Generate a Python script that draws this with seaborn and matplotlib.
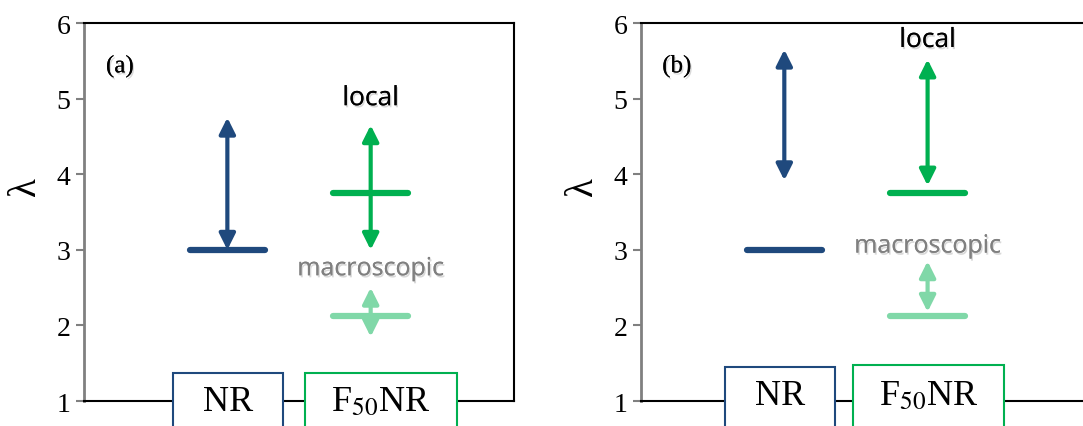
import matplotlib
matplotlib.use("Agg")
import matplotlib.pyplot as plt
import matplotlib.patheffects as pe
from matplotlib.patches import Rectangle
import seaborn as sns

sns.set_style("white")
plt.rcParams["font.family"] = ["Liberation Serif", "DejaVu Serif"]
plt.rcParams["mathtext.fontset"] = "stix"
plt.rcParams["text.color"] = "black"
plt.rcParams["ytick.labelcolor"] = "black"

# --- data ---
categories = ["NR", "F$_{50}$NR"]
cat_pos = [1, 2]
panel_labels = ["(a)", "(b)"]

# macroscopic / local levels of lambda
nr_level = [3.0, 3.0]
f50_local_level = [3.75, 3.75]
f50_macro_level = [2.13, 2.13]

# arrow ranges (low, high) per panel
nr_arrow = [(3.0, 4.75), (3.92, 5.65)]
f50_local_arrow = [(3.0, 4.65), (3.85, 5.52)]
f50_macro_arrow = [(1.85, 2.50), (2.18, 2.85)]

# where the text labels sit
local_text_y = [5.0, 5.77]
macro_text_y = [2.75, 3.05]

DARK_BLUE = "#1F497D"
GREEN = "#00B050"
LIGHT_GREEN = "#80D8A8"
GREY_TXT = "#808080"

fig = plt.figure(figsize=(10.83, 4.27), dpi=100)
ax_a = fig.add_axes([0.0776, 0.0585, 0.397, 0.885])
ax_b = fig.add_axes([0.5919, 0.0585, 0.4247, 0.885])

shadow = [pe.withSimplePatchShadow(offset=(1, -1.5), alpha=0.15, shadow_rgbFace="k"), pe.Normal()]


def double_arrow(ax, x, lo, hi, color):
    ax.annotate("", xy=(x, hi), xytext=(x, lo),
                arrowprops=dict(arrowstyle="<|-|>", color=color, lw=3,
                                mutation_scale=24, shrinkA=0, shrinkB=0))


def draw_panel(ax, i, xmax, box_specs, box_text_y, lam_x):
    ax.set_xlim(0, xmax)
    ax.set_ylim(1, 6)
    ax.set_yticks([1, 2, 3, 4, 5, 6])
    ax.set_xticks([])
    ax.tick_params(axis="y", direction="out", length=6, width=1.5,
                   color="#808080", labelsize=20, pad=4, left=True)
    for side in ["top", "bottom", "right"]:
        ax.spines[side].set_color("black")
        ax.spines[side].set_linewidth(1.5)
    ax.spines["left"].set_color("#808080")
    ax.spines["left"].set_linewidth(2)

    half = 0.26
    ax.hlines(nr_level[i], cat_pos[0] - half, cat_pos[0] + half, color=DARK_BLUE,
              lw=4.5, capstyle="round")
    ax.hlines(f50_local_level[i], cat_pos[1] - half, cat_pos[1] + half, color=GREEN,
              lw=4.5, capstyle="round")
    ax.hlines(f50_macro_level[i], cat_pos[1] - half, cat_pos[1] + half, color=LIGHT_GREEN,
              lw=4.5, capstyle="round")

    double_arrow(ax, cat_pos[0], *nr_arrow[i], DARK_BLUE)
    double_arrow(ax, cat_pos[1], *f50_local_arrow[i], GREEN)
    double_arrow(ax, cat_pos[1], *f50_macro_arrow[i], LIGHT_GREEN)

    ax.text(cat_pos[1], local_text_y[i], "local", ha="center", va="center",
            fontsize=19, family=["Open Sans", "DejaVu Sans"], color="black",
            path_effects=shadow)
    ax.text(cat_pos[1], macro_text_y[i], "macroscopic", ha="center", va="center",
            fontsize=18, family=["Open Sans", "DejaVu Sans"], color=GREY_TXT,
            path_effects=shadow)
    ax.text(0.25, 5.43, panel_labels[i], ha="center", va="center", fontsize=18,
            path_effects=shadow)

    for (x0, x1, top, col), name in zip(box_specs, categories):
        rect = Rectangle((x0, 0.5), x1 - x0, top - 0.5, facecolor="white",
                         edgecolor=col, lw=1.5, clip_on=False, zorder=5)
        ax.add_patch(rect)
        ax.text((x0 + x1) / 2, box_text_y, name, ha="center", va="center",
                fontsize=26, zorder=6, clip_on=False)

    ax.text(lam_x, 0.57, "λ", transform=ax.transAxes, fontsize=28, rotation=90,
            ha="center", va="center")


draw_panel(ax_a, 0, 3.0,
           [(0.62, 1.39, 1.37, DARK_BLUE), (1.54, 2.60, 1.37, GREEN)], 0.99, -0.137)

draw_panel(ax_b, 1, 460 / 143.3,
           [(0.586, 1.354, 1.45, DARK_BLUE), (1.48, 2.53, 1.48, GREEN)], 1.07, -0.128)
ax_b.spines["right"].set_visible(False)

fig.savefig("out.png", dpi=100)
